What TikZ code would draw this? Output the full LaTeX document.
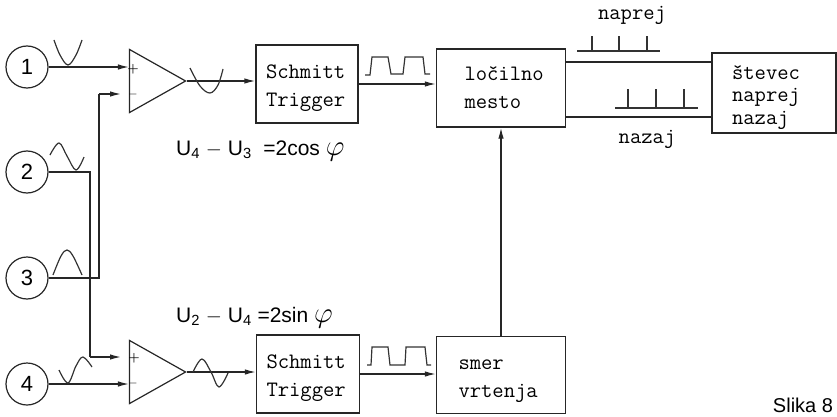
\documentclass[tikz,border=0pt]{standalone}
\usepackage{fontspec}
\setsansfont{Liberation Sans}
\usetikzlibrary{shapes.geometric, arrows.meta}
\newcommand{\zamik}{\rule{0pt}{23pt}}
\tikzstyle{sensor} = [circle, draw=black!85, line width=1.2pt, minimum size=42pt, inner sep=0pt, font=\sffamily\fontsize{22}{24}\selectfont]
\tikzstyle{amp} = [isosceles triangle, isosceles triangle stretches, shape border rotate=0, draw=black!85, line width=1.2pt, minimum width=63pt, minimum height=56pt, inner sep=0pt]
\tikzstyle{blok} = [rectangle, draw=black!85, line width=1.3pt, inner ysep=0pt, align=left, font=\ttfamily\fontsize{22}{28}\selectfont]
\tikzstyle{myarrow} = [-{Latex[length=11pt,width=5.5pt]}, line width=1.3pt, draw=black!85]
\tikzstyle{myline} = [line width=1.3pt, draw=black!85]
\tikzstyle{signal} = [line width=1.2pt, draw=black!80]
\tikzstyle{znak} = [inner sep=0pt, font=\bfseries\fontsize{13}{13}\selectfont]
\tikzstyle{oznaka} = [inner sep=0pt, font=\ttfamily\fontsize{22}{24}\selectfont]
\tikzstyle{formula} = [inner sep=0pt, anchor=base west, font=\sffamily\fontsize{21}{24}\selectfont]
\begin{document}
\begin{tikzpicture}[x=1pt, y=-1pt]
\useasboundingbox (0,0) rectangle (837,417);
% vhodi
\node(sig1)[sensor] at (27,67) {1};
\node(sig2)[sensor] at (27,172) {2};
\node(sig3)[sensor] at (27,278) {3};
\node(sig4)[sensor] at (27,384) {4};
% ojacevalnika
\node(amp1)[amp] at (148,81) {};
\node(amp2)[amp] at (148,372) {};
\node(plus1)[znak] at (133,69) {+};
\node(minus1)[znak] at (133,95) {$-$};
\node(plus2)[znak] at (134,358) {+};
\node(minus2)[znak] at (133,383) {$-$};
% bloki
\node(trig1)[blok, minimum height=78pt, text width=82pt, inner xsep=10pt] at (307,84) {\zamik Schmitt\\Trigger};
\node(trig2)[blok, minimum height=78pt, text width=83pt, inner xsep=10pt] at (308,374) {\zamik Schmitt\\Trigger};
\node(loc)[blok, minimum height=78pt, text width=73pt, inner xsep=28pt] at (501,88) {ločilno\\mesto};
\node(smer)[blok, minimum height=77pt, text width=85pt, inner xsep=22pt] at (501,375) {\zamik smer\\vrtenja};
\node(stev)[blok, minimum height=80pt, text width=84pt, inner xsep=20pt, font=\ttfamily\fontsize{22}{22.5}\selectfont] at (774,93) {\zamik števec\\naprej\\nazaj};
% pomozne tocke
\coordinate (bend1) at (99,94);
\coordinate (bend2) at (90,357);
\coordinate (in1) at (121,94);
\coordinate (in2) at (121,357);
% povezave
\draw [myarrow] (sig1.east) -- (amp1.west |- sig1.east);
\draw [myline] (sig3.east) -| (bend1);
\draw [myarrow] (bend1) -- (in1);
\draw [myline] (sig2.east) -| (bend2);
\draw [myarrow] (bend2) -- (in2);
\draw [myarrow] (sig4.east) -- (amp2.west |- sig4.east);
\draw [myarrow] (amp1.apex) -- (trig1.west |- amp1.apex);
\draw [myarrow] (amp2.apex) -- (trig2.west |- amp2.apex);
\draw [myarrow] (trig1.east) -- (loc.west |- trig1.east);
\draw [myarrow] (trig2.east) -- (smer.west |- trig2.east);
\draw [myarrow] (smer.north) -- (loc.south);
\draw [myline] (loc.east |- 0,62) -- (stev.west |- 0,62);
\draw [myline] (loc.east |- 0,117) -- (stev.west |- 0,117);
% signali
\draw [signal] plot[smooth, tension=0.6] coordinates {(54,40) (60,55) (68,65) (76,55) (82,40)};
\draw [signal] plot[smooth, tension=0.6] coordinates {(50,155) (59,143) (67,156) (76,170) (84,157)};
\draw [signal] plot[smooth, tension=0.6] coordinates {(53,275) (61,256) (67,250) (73,256) (82,275)};
\draw [signal] plot[smooth, tension=0.6] coordinates {(59,370) (68,383) (76,366) (83,357) (92,367)};
\draw [signal] plot[smooth, tension=0.6] coordinates {(190,68) (200,86) (210,93) (218,85) (223,69)};
\draw [signal] plot[smooth, tension=0.6] coordinates {(193,372) (202,359) (211,372) (219,387) (228,373)};
\draw [signal] (365,75) -- (370,75) -- (372,57) -- (388,57) -- (391,74) -- (403,74) -- (405,57) -- (423,57) -- (425,74) -- (430,74);
\draw [signal] (367,365) -- (371,365) -- (372,347) -- (388,347) -- (390,365) -- (405,365) -- (406,347) -- (425,347) -- (427,365) -- (431,365);
\draw [signal] (577,51) -- (660,51);
\foreach \x in {592,619,647} \draw [signal, line width=2pt] (\x,51) -- (\x,36);
\draw [signal] (615,108) -- (698,108);
\foreach \x in {628,656,684} \draw [signal, line width=2pt] (\x,108) -- (\x,89);
% napisi
\node(naprej)[oznaka] at (632,15) {naprej};
\node(nazaj)[oznaka] at (647,139) {nazaj};
\node(form1)[formula] at (176,155) {U\textsubscript{4} $-$ U\textsubscript{3} \;=2cos \scalebox{1.4}{$\varphi$}};
\node(form2)[formula] at (176,322) {U\textsubscript{2} $-$ U\textsubscript{4} =2sin \scalebox{1.4}{$\varphi$}};
\node(slika)[inner sep=0pt, font=\sffamily\fontsize{20}{22}\selectfont] at (803,405) {Slika 8};
\end{tikzpicture}
\end{document}
